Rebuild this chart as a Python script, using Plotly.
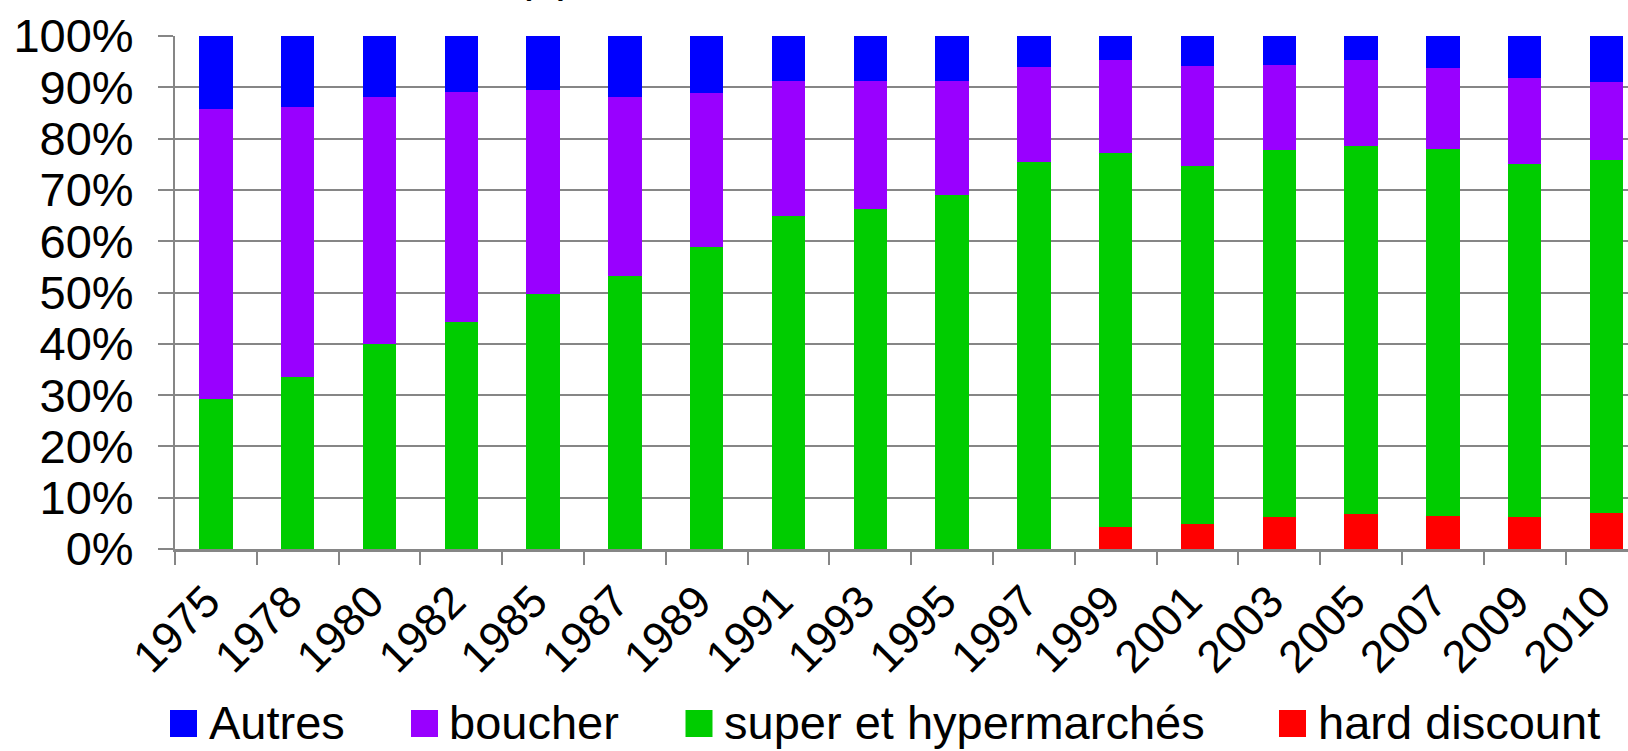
import plotly.graph_objects as go

# ---------------- data (percent shares) ----------------
years = ["1975", "1978", "1980", "1982", "1985", "1987", "1989", "1991", "1993",
         "1995", "1997", "1999", "2001", "2003", "2005", "2007", "2009", "2010"]

hard_discount = [None, None, None, None, None, None, None, None, None, None, None,
                 4.3, 4.8, 6.3, 6.8, 6.5, 6.3, 7.0]
super_hyper = [29.3, 33.5, 39.9, 44.3, 49.7, 53.3, 58.8, 65.0, 66.2,
               69.0, 75.5, 72.9, 69.9, 71.4, 71.8, 71.4, 68.7, 68.9]
boucher = [56.5, 52.7, 48.3, 44.7, 39.8, 34.9, 30.1, 26.2, 25.0,
           22.2, 18.4, 18.2, 19.4, 16.7, 16.8, 15.8, 16.9, 15.1]
autres = [14.2, 13.8, 11.8, 11.0, 10.5, 11.8, 11.1, 8.8, 8.8,
          8.8, 6.1, 4.6, 5.9, 5.6, 4.6, 6.3, 8.1, 9.0]

series_names = ["Autres", "boucher", "super et hypermarchés", "hard discount"]
series_colors = ["#0000FF", "#9900FF", "#00CC00", "#FF0000"]
y_ticks = [0, 10, 20, 30, 40, 50, 60, 70, 80, 90, 100]
y_tick_text = ["0%", "10%", "20%", "30%", "40%", "50%", "60%", "70%", "80%", "90%", "100%"]

# ---------------- layout geometry (pixels) ----------------
W, H = 1628, 751
ML, MR, MT, MB = 175, 0, 36, 202
PW, PH = W - ML - MR, H - MT - MB
CAT_W = 81.8
FONT = "Arial, Liberation Sans, sans-serif"
GRID = "#868686"


def px_x(px):
    return (px - ML) / PW


def px_y(py):
    return (H - MB - py) / PH


fig = go.Figure()
stack = [(hard_discount, 3), (super_hyper, 2), (boucher, 1), (autres, 0)]
for values, idx in stack:
    fig.add_trace(go.Bar(
        x=years, y=values, name=series_names[idx],
        marker=dict(color=series_colors[idx], line=dict(width=0)),
        showlegend=False,
    ))

x_right = (PW / CAT_W) - 0.5

fig.update_layout(
    width=W, height=H,
    margin=dict(l=ML, r=MR, t=MT, b=MB, pad=0, autoexpand=False),
    barmode="stack", bargap=0.59,
    paper_bgcolor="white", plot_bgcolor="white",
    font=dict(family=FONT, color="black"),
    showlegend=False,
)
fig.update_yaxes(
    range=[0, 100], tickvals=y_ticks, ticktext=y_tick_text,
    showgrid=True, gridcolor=GRID, gridwidth=2,
    showline=True, linecolor=GRID, linewidth=2,
    ticks="outside", ticklen=15, tickwidth=2, tickcolor=GRID,
    tickfont=dict(size=47, family=FONT, color="black"),
    ticklabelstandoff=15, zeroline=False, fixedrange=True, automargin=False,
)
fig.update_xaxes(
    type="category", range=[-0.5, x_right],
    showgrid=False, showline=True, linecolor=GRID, linewidth=3,
    ticks="outside", tickson="boundaries", ticklen=13, tickwidth=2, tickcolor=GRID,
    tickangle=-45, tickfont=dict(size=45, family=FONT, color="black"),
    ticklabelshift=-9, ticklabelstandoff=5,
    fixedrange=True, automargin=False,
)

# manual legend (square + label)
legend_boxes = [170, 411, 685.5, 1279]
legend_text_x = [207, 447, 722, 1316]
box = 27
for i, name in enumerate(series_names):
    fig.add_shape(type="rect", xref="paper", yref="paper",
                  x0=px_x(legend_boxes[i]), x1=px_x(legend_boxes[i] + box),
                  y0=px_y(710 + box), y1=px_y(710),
                  fillcolor=series_colors[i], line=dict(width=0))
    fig.add_annotation(text=name, xref="paper", yref="paper",
                       x=px_x(legend_text_x[i]), y=px_y(722),
                       xanchor="left", yanchor="middle", showarrow=False,
                       font=dict(size=47, family=FONT, color="black"))

# cropped title remnant at the very top
fig.add_annotation(text="(\u00a0\u00a0)", xref="paper", yref="paper",
                   x=px_x(514), y=px_y(3), xanchor="left", yanchor="bottom",
                   showarrow=False, font=dict(size=47, family=FONT, color="black"))

fig.write_html("out.html", config={"displayModeBar": False},
               post_script="document.body.style.margin='0';")
